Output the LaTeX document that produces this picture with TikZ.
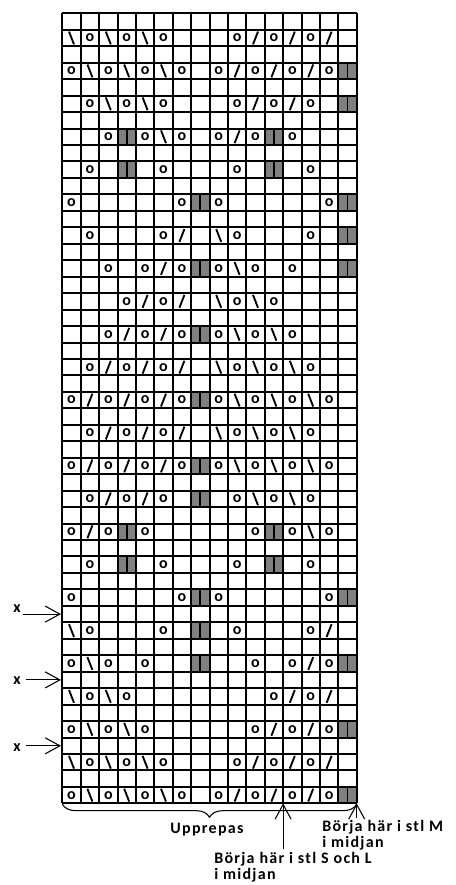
\documentclass[tikz,border=0pt]{standalone}
\usepackage{fontspec}
\setmainfont{Carlito}
\newfontfamily\lblfont[LetterSpace=8]{Carlito}
\usepackage{tikz}
\usetikzlibrary{arrows.meta,decorations.pathreplacing,calc}
\definecolor{chartgray}{RGB}{128,128,128}
\tikzstyle{arr}      =[-{Straight Barb[length=11pt,width=12pt]}, line width=0.8pt]
\tikzstyle{gridline} =[line width=1.5pt]
\tikzstyle{slashline}=[line width=1.4pt]
\tikzstyle{sym}      =[font=\fontsize{12}{12}\selectfont\bfseries, inner sep=0pt]
\tikzstyle{lbl}      =[font=\lblfont\fontsize{12}{12}\selectfont\bfseries, inner sep=0pt]

% cell symbols: centre x, centre y, name
\newcommand\sto[3]{\node[sym] (#3) at (#1,#2) {o};}
\newcommand\stb[3]{\draw[slashline] (#1-2.5,#2-6.4) -- (#1+2.5,#2+6.4);}
\newcommand\stf[3]{\draw[slashline] (#1-2.5,#2+6.4) -- (#1+2.5,#2-6.4);}
\newcommand\stg[3]{\fill[chartgray] (#1-9.2,#2-8.23) rectangle (#1+9.2,#2+8.23);
  \draw[line width=1.3pt] (#1,#2-8.23) -- (#1,#2+8.23);}
\newcommand\ste[3]{}

\begin{document}
\begin{tikzpicture}[x=0.75pt, y=-0.75pt]
  \useasboundingbox (0,0) rectangle (455,885);

  % ── chart rows (every second row, top to bottom) ──────────────────────────
  \foreach \line [count=\r] in {
    {b,o,b,o,b,o,e,e,e,o,f,o,f,o,f,e},
    {o,b,o,b,o,b,o,e,o,f,o,f,o,f,o,g},
    {e,o,b,o,b,o,e,e,e,o,f,o,f,o,e,g},
    {e,e,o,g,o,b,o,e,o,f,o,g,o,e,e,e},
    {e,o,e,g,e,o,e,e,e,o,e,g,e,o,e,e},
    {o,e,e,e,e,e,o,g,o,e,e,e,e,e,o,g},
    {e,o,e,e,e,o,f,e,b,o,e,e,e,o,e,g},
    {e,e,o,e,o,f,o,g,o,b,o,e,o,e,e,g},
    {e,e,e,o,f,o,f,e,b,o,b,o,e,e,e,e},
    {e,e,o,f,o,f,o,g,o,b,o,b,o,e,e,e},
    {e,o,f,o,f,o,f,e,b,o,b,o,b,o,e,e},
    {o,f,o,f,o,f,o,g,o,b,o,b,o,b,o,e},
    {e,o,f,o,f,o,f,e,b,o,b,o,b,o,e,e},
    {o,f,o,f,o,f,o,g,o,b,o,b,o,b,o,e},
    {e,o,f,o,f,o,e,g,e,o,b,o,b,o,e,e},
    {o,f,o,g,o,e,e,e,e,e,o,g,o,b,o,e},
    {e,o,e,g,e,o,e,e,e,o,e,g,e,o,e,e},
    {o,e,e,e,e,e,o,g,o,e,e,e,e,e,o,g},
    {b,o,e,e,e,o,e,g,e,o,e,e,e,o,f,e},
    {o,b,o,e,o,e,e,g,e,e,o,e,o,f,o,g},
    {b,o,b,o,e,e,e,e,e,e,e,o,f,o,f,e},
    {o,b,o,b,o,e,e,e,e,e,o,f,o,f,o,g},
    {b,o,b,o,b,o,e,e,e,o,f,o,f,o,f,e},
    {o,b,o,b,o,b,o,e,o,f,o,f,o,f,o,g}}{
    \foreach \s [count=\c] in \line {
      \pgfmathsetmacro\cx{62.3+(\c-0.5)*18.4}
      \pgfmathsetmacro\cy{13.3+(2*\r-0.5)*16.46}
      \csname st\s\endcsname{\cx}{\cy}{s\r-\c}
    }
  }

  % ── grid ──────────────────────────────────────────────────────────────────
  \foreach \i in {0,...,16}
    \draw[gridline] (62.3+\i*18.4,13.3) -- (62.3+\i*18.4,803.4);
  \foreach \j in {0,...,48}
    \draw[gridline] (61.6,13.3+\j*16.46) -- (357.4,13.3+\j*16.46);

  % ── row markers ───────────────────────────────────────────────────────────
  \node[sym] (x1) at (17,609) {x};
  \node[sym] (x2) at (17,681) {x};
  \node[sym] (x3) at (17,748) {x};
  \coordinate (t1) at (23,614.1);  \coordinate (h1) at (61,614.1);
  \coordinate (t2) at (26,679.9);  \coordinate (h2) at (61,679.9);
  \coordinate (t3) at (26,745.8);  \coordinate (h3) at (61,745.8);
  \draw[arr] (t1) -- (h1);
  \draw[arr] (t2) -- (h2);
  \draw[arr] (t3) -- (h3);

  % ── repeat and start marks ────────────────────────────────────────────────
  \draw[line width=0.8pt, decorate, decoration={brace, mirror, amplitude=10pt}]
    (62.3,804) -- (356.7,804);
  \node[lbl, anchor=base] (upp) at (207,833) {Upprepas};

  \coordinate (sl-tail) at (283.1,849);  \coordinate (sl-tip) at (283.1,803.4);
  \coordinate (m-tail)  at (356.7,818);  \coordinate (m-tip)  at (356.7,803.4);
  \draw[arr] (sl-tail) -- (sl-tip);
  \draw[arr] (m-tail) -- (m-tip);

  \node[lbl, anchor=base west] (stlm)  at (322,831) {Börja här i stl M};
  \node[lbl, anchor=base west] (midm)  at (322,847) {i midjan};
  \node[lbl, anchor=base west] (stls)  at (214,863) {Börja här i stl S och L};
  \node[lbl, anchor=base west] (mids)  at (214,879) {i midjan};

\end{tikzpicture}
\end{document}
